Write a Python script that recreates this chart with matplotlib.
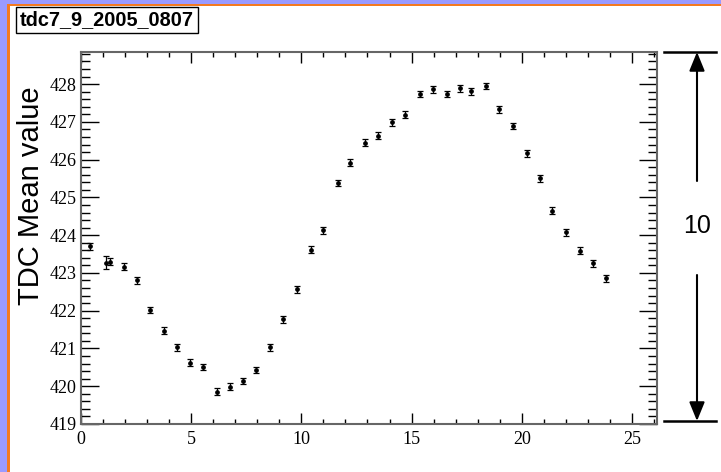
import matplotlib
matplotlib.use("Agg")
import matplotlib.pyplot as plt
from matplotlib.ticker import MultipleLocator
from matplotlib.patches import Rectangle

# ---- data ----
time_x = [0.43, 1.14, 1.33, 1.94, 2.54, 3.15, 3.77, 4.36, 4.95, 5.55,
          6.17, 6.77, 7.33, 7.95, 8.56, 9.16, 9.82, 10.43, 11.00, 11.65,
          12.21, 12.88, 13.48, 14.10, 14.71, 15.37, 15.97, 16.60, 17.20, 17.71,
          18.38, 18.98, 19.59, 20.22, 20.81, 21.37, 21.99, 22.64, 23.21, 23.82]
tdc_mean = [423.70, 423.27, 423.30, 423.17, 422.80, 422.02, 421.47, 421.03, 420.62, 420.51,
            419.86, 419.99, 420.14, 420.43, 421.03, 421.77, 422.57, 423.62, 424.13, 425.38,
            425.92, 426.45, 426.63, 426.99, 427.19, 427.74, 427.86, 427.74, 427.89, 427.81,
            427.95, 427.33, 426.89, 426.17, 425.51, 424.65, 424.08, 423.59, 423.26, 422.86]
tdc_err = [0.09, 0.17, 0.10, 0.09, 0.09, 0.09, 0.09, 0.09, 0.09, 0.09,
           0.09, 0.09, 0.09, 0.09, 0.09, 0.09, 0.09, 0.10, 0.09, 0.09,
           0.09, 0.09, 0.09, 0.09, 0.09, 0.09, 0.09, 0.09, 0.09, 0.09,
           0.09, 0.09, 0.09, 0.09, 0.09, 0.09, 0.09, 0.09, 0.09, 0.09]

title_text = "tdc7_9_2005_0807"
ylabel_text = "TDC Mean value"
span_text = "10"

W, H = 721, 472
fig = plt.figure(figsize=(W / 100, H / 100), dpi=100)
fig.patch.set_facecolor("white")

# main axes (pixel box: left 81, top 52, right 657, bottom 424)
ax = fig.add_axes([81 / W, 1 - 424 / H, (657.3 - 81) / W, (424 - 52) / H])
ax.errorbar(time_x, tdc_mean, yerr=tdc_err, fmt="o", ms=2.4, color="black",
            ecolor="black", elinewidth=0.9, capsize=2.5, capthick=0.9)
ax.set_xlim(0, 26.15)
ax.set_ylim(419, 428.85)
ax.xaxis.set_major_locator(MultipleLocator(5))
ax.xaxis.set_minor_locator(MultipleLocator(1))
ax.yaxis.set_major_locator(MultipleLocator(1))
ax.yaxis.set_minor_locator(MultipleLocator(0.2))
ax.tick_params(which="both", direction="in", top=True, right=True, color="black", width=1.0)
ax.tick_params(axis="x", which="major", length=8, pad=5)
ax.tick_params(axis="x", which="minor", length=3.5)
ax.tick_params(axis="y", which="major", length=13, pad=3)
ax.tick_params(axis="y", which="minor", length=6.5)
for lab in ax.get_xticklabels() + ax.get_yticklabels():
    lab.set_fontfamily("Liberation Serif")
    lab.set_fontsize(13)
for sp in ax.spines.values():
    sp.set_color("#666666")
    sp.set_linewidth(1.5)

# overlay in pixel coordinates for decorations
ov = fig.add_axes([0, 0, 1, 1], facecolor="none")
ov.set_xlim(0, W)
ov.set_ylim(H, 0)
ov.axis("off")

# slide frame: purple strips + orange border on top and left
ov.add_patch(Rectangle((0, 0), W, 3.5, facecolor="#9a9aff", edgecolor="none"))
ov.add_patch(Rectangle((0, 0), 7, H, facecolor="#9a9aff", edgecolor="none"))
ov.add_patch(Rectangle((7, 3.5), W, 2.5, facecolor="#f47a20", edgecolor="none"))
ov.add_patch(Rectangle((7, 3.5), 2.5, H, facecolor="#f47a20", edgecolor="none"))

# title box
fig.text(20 / W, 1 - 20 / H, title_text, fontsize=14.3, fontweight="bold",
         family="Liberation Sans", ha="left", va="center",
         bbox=dict(boxstyle="square,pad=0.2", facecolor="white", edgecolor="black", linewidth=1.0))

# y label
fig.text(31 / W, 1 - 196 / H, ylabel_text, rotation=90, fontsize=21,
         family="Liberation Sans", ha="center", va="center")

# span annotation on the right
ov.plot([664, 716], [52, 52], color="black", lw=1.8)
ov.plot([664, 716], [421, 421], color="black", lw=1.8)
arrow_kw = dict(arrowstyle="-|>,head_length=1.15,head_width=0.47", color="black",
                lw=1.5, shrinkA=0, shrinkB=0, mutation_scale=10)
ov.annotate("", xy=(697, 52), xytext=(697, 181), arrowprops=arrow_kw)
ov.annotate("", xy=(697, 421), xytext=(697, 275), arrowprops=arrow_kw)
ov.text(697, 226, span_text, fontsize=18, family="Liberation Sans", ha="center", va="center")

fig.savefig("out.png", dpi=100)
